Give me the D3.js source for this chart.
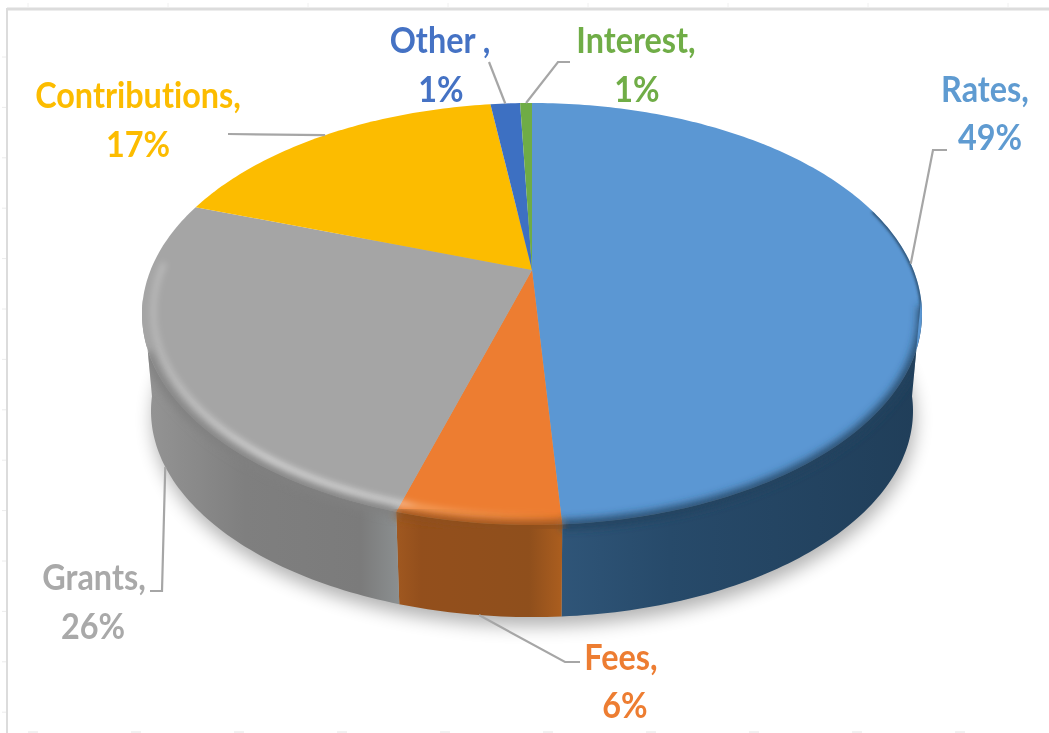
<!DOCTYPE html>
<html>
<head>
<meta charset="utf-8">
<script src="https://cdn.jsdelivr.net/npm/d3@7"></script>
<style>
html, body { margin: 0; padding: 0; background: #fff; overflow: hidden; }
text { font-family: Lato, "Open Sans", sans-serif; font-weight: 700; text-anchor: middle; font-variant-ligatures: none; }
</style>
</head>
<body>
<div></div>
<script>
var width = 1049;
var height = 733;

// shares of the circle
var categories = ['Rates', 'Fees', 'Grants', 'Contributions', 'Other', 'Interest'];
var shares = [49, 5.6, 25.8, 17.5, 1.5, 0.6];
// printed labels
var percentLabels = ['49%', '6%', '26%', '17%', '1%', '1%'];
var nameLabels = ['Rates,', 'Fees,', 'Grants,', 'Contributions,', 'Other ,', 'Interest,'];

var faceColors = ['#5b97d3', '#ed7d31', '#a5a5a5', '#fcbc00', '#3d70c2', '#6fac46'];
var textColors = ['#5f9bd1', '#ed7d31', '#a9a9a9', '#fcbc04', '#4472c4', '#70ad47'];

// label layout: name centre, name baseline, percent centre, percent baseline
var labelLayout = [
    [985, 102, 990, 150],
    [621, 670, 625, 718],
    [94, 590, 93, 639],
    [138, 108, 138, 157],
    [440, 53, 441, 102],
    [636, 53, 637, 102]
];
// leader elbows after the point on the slice
var leaderBends = [
    [[933, 150], [947, 150]],
    [[565, 662], [580, 662]],
    [[162, 591], [150, 591]],
    [[228, 134]],
    [[489, 62]],
    [[558, 62], [570, 62]]
];
var leaderLower = [false, true, true, false, false, false];

// wall shading, left to right
var wallStops = [
    [[0, '#2f5578'], [0.3, '#274a6a'], [1, '#203e59']],
    [[0, '#a05820'], [0.15, '#934f1c'], [0.8, '#8f4f1c'], [0.92, '#a0581e'], [1, '#ab5e1f']],
    [[0, '#959595'], [0.4, '#7f7f7f'], [0.85, '#7b7b7b'], [1, '#8b8f90']]
];

// perspective disc
var cx = 532, cy = 270;
var rx = 381.4, ry = 201.8, persp = 0.2085;
var dropY = 98, dropScale = 0.977;
var deg = Math.PI / 180;

function project(a, r, lower) {
    var u = Math.sin(a) * r, v = -Math.cos(a) * r;
    var w = 1 - persp * v;
    var s = lower ? dropScale : 1;
    return [cx + s * rx * u / w, cy + (lower ? dropY : 0) + s * ry * v / w];
}

function angles(a0, a1) {
    var n = Math.max(2, Math.ceil(Math.abs(a1 - a0) * 60));
    return d3.range(n + 1).map(function (i) { return a0 + (a1 - a0) * i / n; });
}

var line = d3.line();
var pie = d3.pie().sort(null);
var slices = pie(shares);

function arcPoints(a0, a1, r, lower) {
    return angles(a0, a1).map(function (a) { return project(a, r, lower); });
}

var svg = d3.select('div')
    .append('svg').attr('width', width).attr('height', height)
    .style('display', 'block');
var defs = svg.append('defs');

function blur(id, dev) {
    defs.append('filter').attr('id', id)
        .attr('x', '-20%').attr('y', '-20%').attr('width', '140%').attr('height', '140%')
        .append('feGaussianBlur').attr('stdDeviation', dev);
}
blur('shadow', 9);
blur('soft', 4);
blur('thin', 1.5);
blur('glow', 3);
blur('textblur', 0.5);

// sheet frame behind the chart
var frame = svg.append('g').attr('stroke', '#dcdcdc');
frame.append('line').attr('x1', 7).attr('x2', 7).attr('y1', 8).attr('y2', height).attr('stroke-width', 2);
frame.append('line').attr('x1', 7).attr('x2', width).attr('y1', 9).attr('y2', 9).attr('stroke-width', 3);
frame.selectAll('.ytick').data(d3.range(57, height, 50.4)).enter().append('line')
    .attr('x1', 2).attr('x2', 6).attr('y1', function (d) { return d; }).attr('y2', function (d) { return d; })
    .attr('stroke', '#ececec');
frame.selectAll('.xtick').data(d3.range(28, width, 140)).enter().append('line')
    .attr('x1', function (d) { return d; }).attr('x2', function (d) { return d; }).attr('y1', 3).attr('y2', 7)
    .attr('stroke', '#f0f0f0');
frame.selectAll('.btick').data(d3.range(28, width, 103)).enter().append('line')
    .attr('x1', function (d) { return d; }).attr('x2', function (d) { return d + 10; }).attr('y1', 732).attr('y2', 732)
    .attr('stroke', '#e4e4e4');

// soft shadow under the disc
var full = arcPoints(0, 2 * Math.PI, 1, true);
svg.append('path')
    .attr('d', line(full) + 'Z')
    .attr('transform', 'translate(2,9)')
    .attr('fill', '#000').attr('opacity', 0.3)
    .attr('filter', 'url(#shadow)');

var wallFrom = 98 * deg, wallTo = 262 * deg;
var g = svg.append('g');

// walls
slices.forEach(function (d, i) {
    var a0 = Math.max(d.startAngle, wallFrom), a1 = Math.min(d.endAngle, wallTo);
    if (a1 <= a0) return;
    var top = arcPoints(a0, a1, 1, false);
    var bottom = arcPoints(a1, a0, 1, true);
    var pts = top.concat(bottom);
    var xs = d3.extent(pts, function (p) { return p[0]; });
    var grad = defs.append('linearGradient').attr('id', 'wall' + i)
        .attr('gradientUnits', 'userSpaceOnUse')
        .attr('x1', xs[0]).attr('x2', xs[1]).attr('y1', 0).attr('y2', 0);
    wallStops[i].forEach(function (s) {
        grad.append('stop').attr('offset', s[0]).attr('stop-color', s[1]);
    });
    g.append('path').attr('d', line(pts) + 'Z').attr('fill', 'url(#wall' + i + ')');
});

// top face
var wallClip = defs.append('clipPath').attr('id', 'wallClip');
wallClip.append('path').attr('d',
    line(arcPoints(wallFrom, wallTo, 1, true).concat(arcPoints(wallTo, 2 * Math.PI + wallFrom, 1, false))) + 'Z');

slices.forEach(function (d, i) {
    var pts = [[cx, cy]].concat(arcPoints(d.startAngle, d.endAngle, 1, false));
    g.append('path').attr('d', line(pts) + 'Z').attr('fill', faceColors[i]);
});

// rim: the wall colour bleeds up into the face, then a highlight sits just inside
var rim = g.append('g').attr('clip-path', 'url(#wallClip)').attr('fill', 'none');
var rimColors = ['#24435f', '#8f4f1c', '#808080'];
rim.append('path')
    .attr('d', line(arcPoints(72 * deg, 104 * deg, 1, false)))
    .attr('stroke', '#24435f').attr('stroke-width', 3)
    .attr('filter', 'url(#thin)');
slices.slice(0, 3).forEach(function (d, i) {
    var a0 = Math.max(d.startAngle, i === 0 ? 100 * deg : wallFrom);
    var a1 = Math.min(d.endAngle, 248 * deg);
    rim.append('path')
        .attr('d', line(arcPoints(a0, a1, 1.002, false)))
        .attr('stroke', rimColors[i]).attr('stroke-width', 9)
        .attr('filter', 'url(#soft)');
});

var hl = defs.append('linearGradient').attr('id', 'hl')
    .attr('gradientUnits', 'userSpaceOnUse')
    .attr('x1', 145).attr('x2', 560).attr('y1', 0).attr('y2', 0);
hl.append('stop').attr('offset', 0).attr('stop-color', '#fff').attr('stop-opacity', 0.22);
hl.append('stop').attr('offset', 0.3).attr('stop-color', '#fff').attr('stop-opacity', 0.6);
hl.append('stop').attr('offset', 0.62).attr('stop-color', '#fff').attr('stop-opacity', 0.55);
hl.append('stop').attr('offset', 0.66).attr('stop-color', '#ffd9a8').attr('stop-opacity', 0.4);
hl.append('stop').attr('offset', 1).attr('stop-color', '#ffd9a8').attr('stop-opacity', 0);

rim.append('path')
    .attr('d', line(arcPoints(177 * deg, 272 * deg, 0.972, false)))
    .attr('stroke', 'url(#hl)').attr('stroke-width', 5)
    .attr('filter', 'url(#glow)');

// leaders
var leaders = svg.append('g').attr('fill', 'none').attr('stroke', '#a6a6a6').attr('stroke-width', 2.2);
slices.forEach(function (d, i) {
    var mid = (d.startAngle + d.endAngle) / 2;
    var start = project(mid, 1, leaderLower[i]);
    leaders.append('path').attr('d', line([start].concat(leaderBends[i])));
});

// labels, squeezed to the narrow face of the original
var labels = svg.append('g').attr('filter', 'url(#textblur)');
function addLabel(x, y, str, color) {
    labels.append('text')
        .attr('transform', 'translate(' + x + ',' + y + ') scale(0.9,1)')
        .attr('font-size', 36)
        .attr('fill', color).text(str);
}
categories.forEach(function (c, i) {
    var l = labelLayout[i];
    addLabel(l[0], l[1], nameLabels[i], textColors[i]);
    addLabel(l[2], l[3], percentLabels[i], textColors[i]);
});
</script>
</body>
</html>
